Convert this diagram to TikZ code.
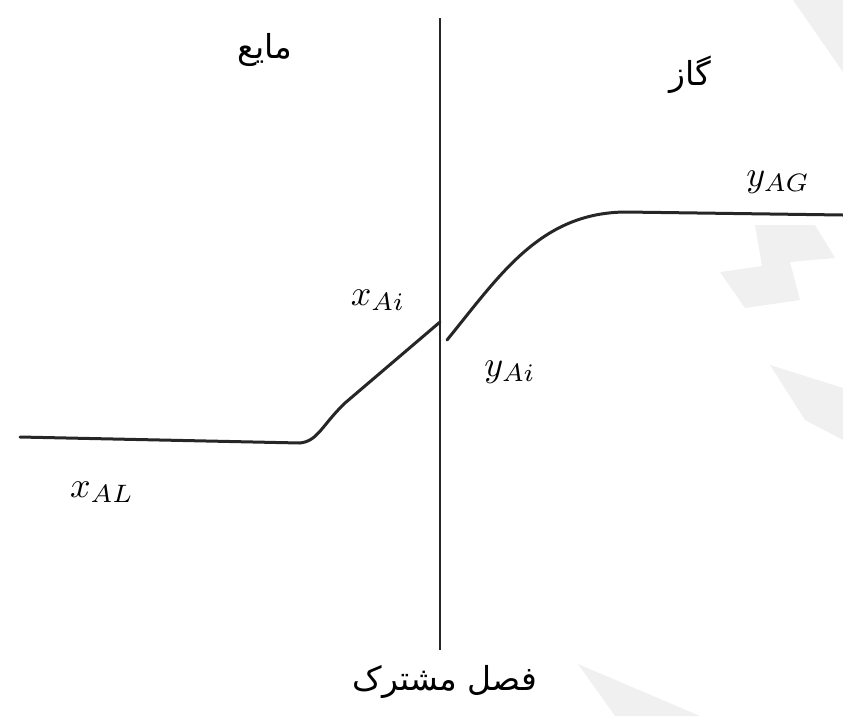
\documentclass[tikz,border=0pt]{standalone}
\usepackage{fontspec}
\usepackage{graphicx}
\newfontfamily\arabicfont[Script=Arabic]{DejaVu Sans}
\TeXXeTstate=1
\tikzset{
  curveline/.style={line width=3pt, line cap=round, line join=round, black!85},
  axisline/.style={line width=2pt, black!85},
  sym/.style={inner sep=0pt},
  fa/.style={font=\arabicfont\fontsize{33}{38}\selectfont, inner sep=0pt},
  wm/.style={fill=black!6, draw=none}
}
\newcommand{\bigsym}[1]{\scalebox{3.6}{$#1$}}
\begin{document}
\begin{tikzpicture}[x=1pt,y=-1pt]
\useasboundingbox (0,0) rectangle (843,716);
% faint watermark shapes
\fill[wm] (793,0) -- (843,0) -- (843,72) -- cycle;
\fill[wm] (755,225) -- (815,225) -- (835,258) -- (790,262) -- (800,300) -- (745,308) -- (720,272) -- (762,266) -- cycle;
\fill[wm] (770,365) -- (843,388) -- (843,440) -- (805,420) -- cycle;
\fill[wm] (578,664) -- (700,716) -- (615,716) -- cycle;
% interface line
\coordinate (top) at (440,18);
\coordinate (bot) at (440,650);
\draw[axisline] (top) -- (bot);
% liquid profile
\coordinate (L0) at (20,437);
\coordinate (L1) at (300,443);
\coordinate (Li) at (440,322);
\draw[curveline] (L0) -- (L1) .. controls (318,441) and (322,425) .. (345,403) -- (Li);
% gas profile
\coordinate (Gi) at (447,340);
\coordinate (G1) at (625,212);
\coordinate (G2) at (843,215);
\draw[curveline] (Gi) .. controls (500,275) and (540,213) .. (G1) -- (G2);
% labels
\node[fa] (liq) at (265,50) {\beginR مایع\endR};
\node[fa] (gas) at (690,75) {\beginR گاز\endR};
\node[fa] (intf) at (445,682) {\beginR فصل مشترک\endR};
\node[sym] (xAL) at (102,492) {\bigsym{x_{AL}}};
\node[sym] (xAi) at (378,300) {\bigsym{x_{Ai}}};
\node[sym] (yAi) at (510,372) {\bigsym{y_{Ai}}};
\node[sym] (yAG) at (778,182) {\bigsym{y_{AG}}};
\end{tikzpicture}
\end{document}
